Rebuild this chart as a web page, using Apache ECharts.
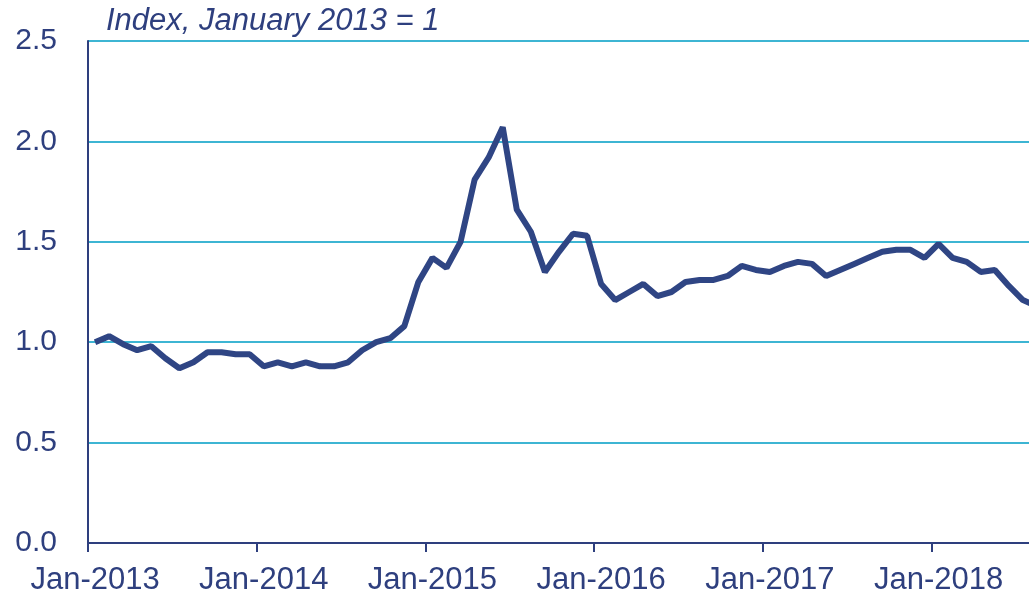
<!DOCTYPE html>
<html lang="en">

<head>
    <meta charset="UTF-8">
    <script src="https://cdn.jsdelivr.net/npm/echarts@6/dist/echarts.min.js"></script>
    <title>Index chart</title>
</head>

<body style="margin:0;">
    <div id="main" style="height: 596px;width: 1029px;"></div>

    <script>
        // months from Jan-2013 to Aug-2018 (the last one is cut off by the right edge)
        var monthNames = ['Jan', 'Feb', 'Mar', 'Apr', 'May', 'Jun', 'Jul', 'Aug', 'Sep', 'Oct', 'Nov', 'Dec'];
        var years = [2013, 2014, 2015, 2016, 2017, 2018];
        var lastMonthCount = 8; // Jan..Aug 2018

        var categories = [];
        years.forEach(function (y, yi) {
            var n = yi === years.length - 1 ? lastMonthCount : 12;
            for (var m = 0; m < n; m++) {
                categories.push(monthNames[m] + '-' + y);
            }
        });

        var indexValues = [
            1.00, 1.03, 0.99, 0.96, 0.98, 0.92, 0.87, 0.90, 0.95, 0.95, 0.94, 0.94,
            0.88, 0.90, 0.88, 0.90, 0.88, 0.88, 0.90, 0.96, 1.00, 1.02, 1.08, 1.30,
            1.42, 1.37, 1.50, 1.81, 1.92, 2.07, 1.66, 1.55, 1.35, 1.45, 1.54, 1.53,
            1.29, 1.21, 1.25, 1.29, 1.23, 1.25, 1.30, 1.31, 1.31, 1.33, 1.38, 1.36,
            1.35, 1.38, 1.40, 1.39, 1.33, 1.36, 1.39, 1.42, 1.45, 1.46, 1.46, 1.42,
            1.49, 1.42, 1.40, 1.35, 1.36, 1.28, 1.21, 1.18
        ];

        var navy = '#2E3F7E';
        var gridBlue = '#3DB5D3';
        var font = 'Liberation Sans, Arial, sans-serif';

        var myChart = echarts.init(document.getElementById('main'));
        var option = {
            animation: false,
            title: {
                text: 'Index, January 2013 = 1',
                left: 101,
                top: 1,
                textStyle: {
                    fontFamily: font,
                    fontStyle: 'italic',
                    fontWeight: 'normal',
                    fontSize: 31,
                    color: navy
                }
            },
            grid: {
                left: 88,
                top: 41,
                bottom: 53,
                // 68 months at ~14.06px each, the last bit runs off the canvas
                width: 956,
                outerBoundsMode: 'none',
                containLabel: false
            },
            xAxis: {
                type: 'category',
                data: categories,
                boundaryGap: true,
                axisLine: { lineStyle: { color: navy, width: 2 } },
                axisTick: {
                    show: true,
                    interval: 11,
                    length: 9,
                    lineStyle: { color: navy, width: 2 }
                },
                axisLabel: {
                    interval: 11,
                    margin: 22,
                    fontFamily: font,
                    fontSize: 31,
                    color: navy
                },
                splitLine: { show: false }
            },
            yAxis: {
                type: 'value',
                min: 0,
                max: 2.5,
                interval: 0.5,
                axisLine: { show: true, lineStyle: { color: navy, width: 2 } },
                axisTick: { show: false },
                axisLabel: {
                    margin: 31,
                    fontFamily: font,
                    fontSize: 30,
                    color: navy,
                    formatter: function (v) { return v.toFixed(1); }
                },
                splitLine: { lineStyle: { color: gridBlue, width: 2 } }
            },
            series: [
                {
                    type: 'line',
                    data: indexValues,
                    symbol: 'none',
                    lineStyle: { color: '#2F4584', width: 6 }
                }
            ]
        };
        myChart.setOption(option);
    </script>
</body>

</html>
